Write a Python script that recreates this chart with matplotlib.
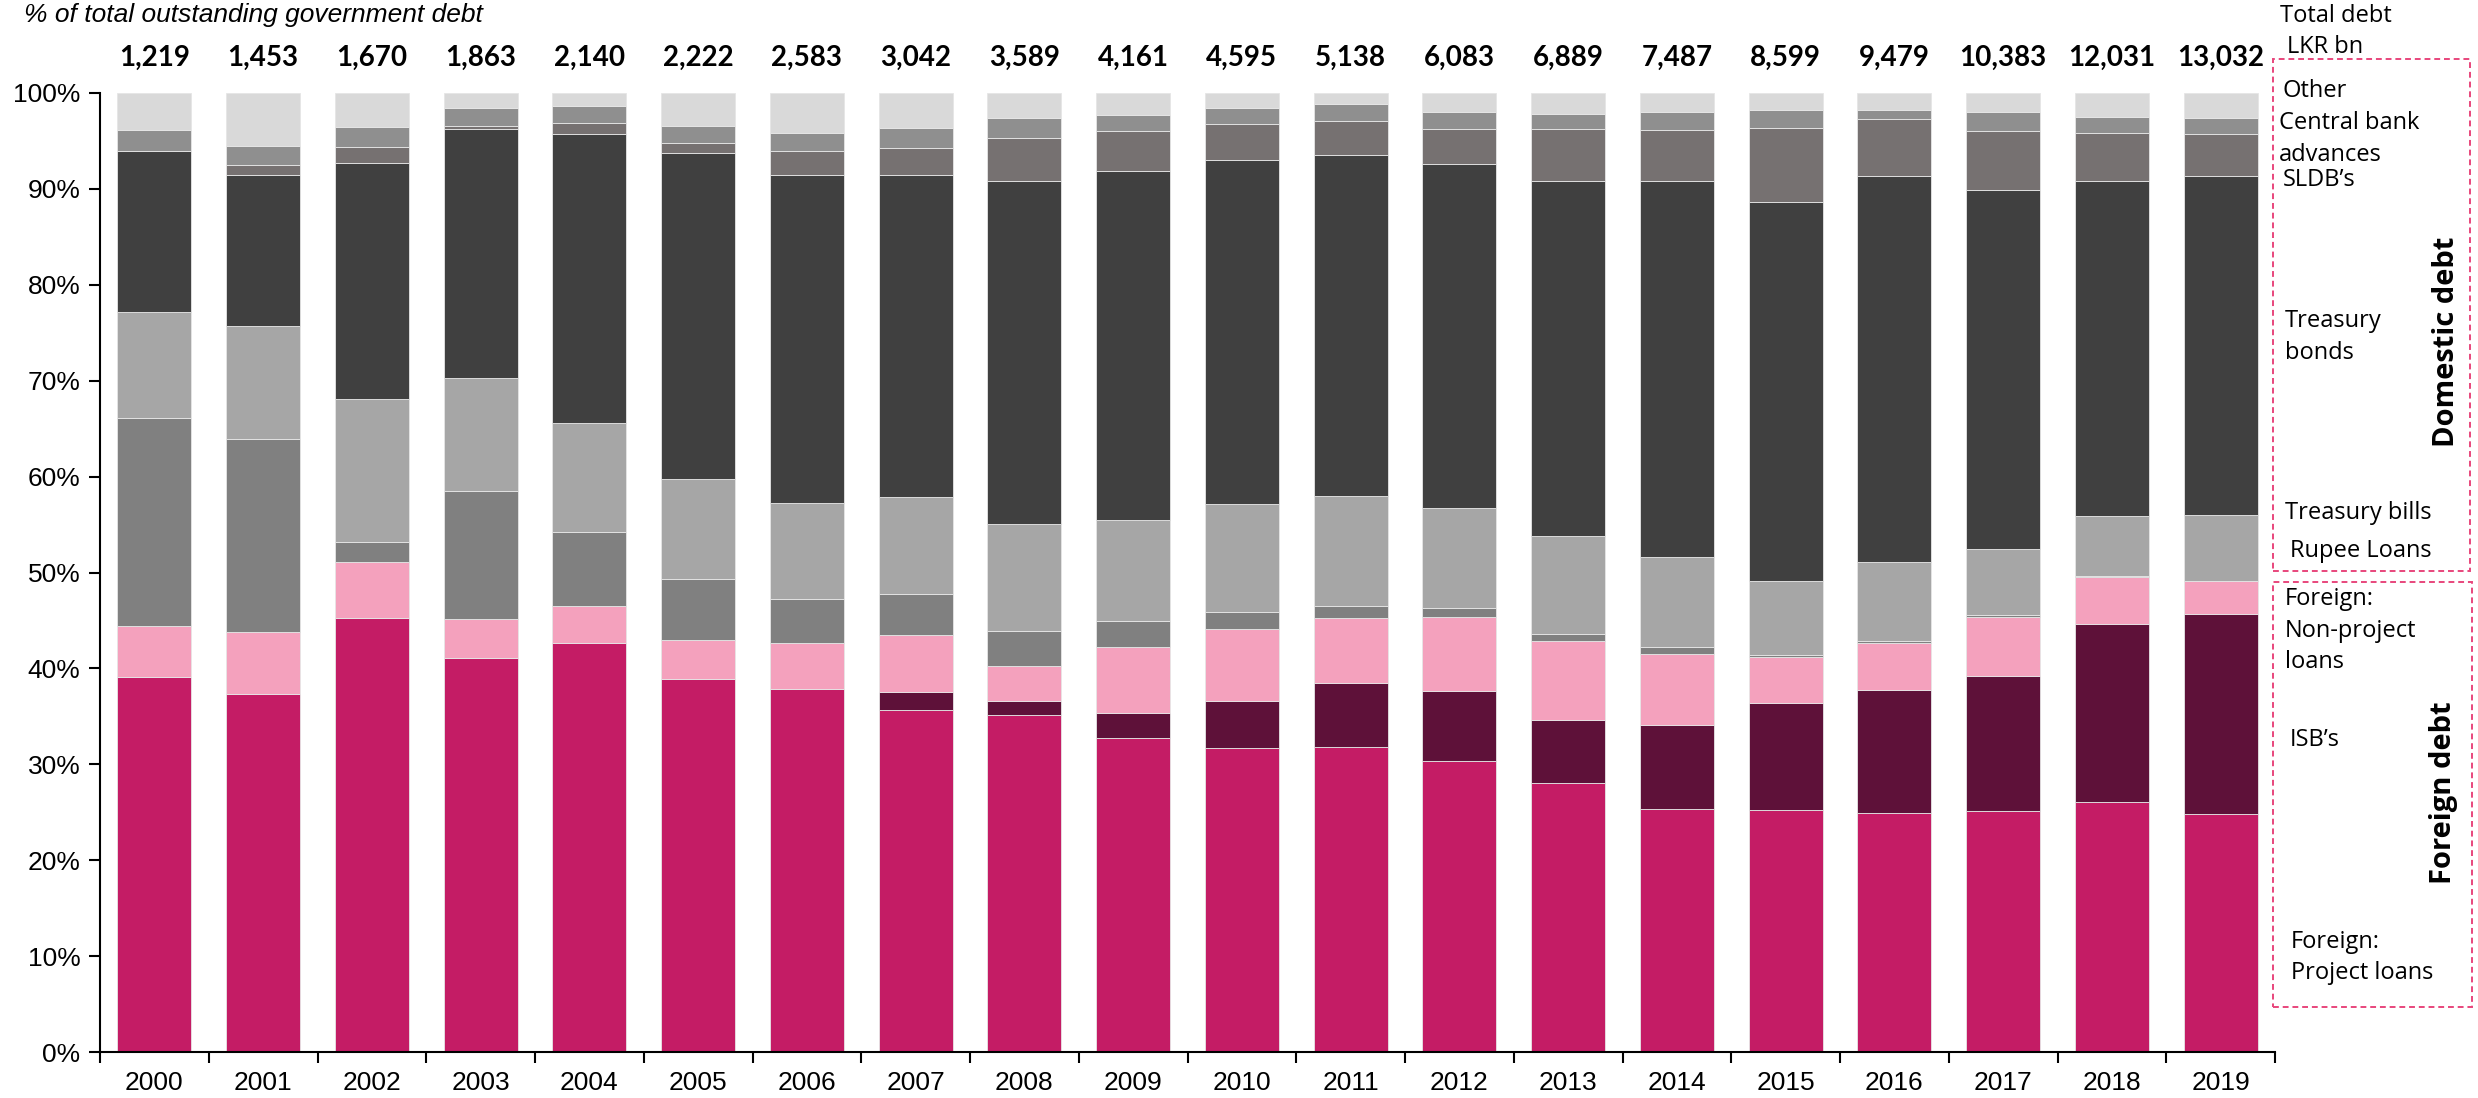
import numpy as np
import matplotlib
matplotlib.use("Agg")
import matplotlib.pyplot as plt
from matplotlib.patches import Rectangle

# === 1. Данные (доли в % от общего госдолга) ===
years = [str(y) for y in range(2000, 2020)]
totals = ["1,219", "1,453", "1,670", "1,863", "2,140", "2,222", "2,583", "3,042", "3,589", "4,161",
          "4,595", "5,138", "6,083", "6,889", "7,487", "8,599", "9,479", "10,383", "12,031", "13,032"]

project_loans = [39.1, 37.3, 45.3, 41.1, 42.7, 38.9, 37.8, 35.7, 35.1, 32.7,
                 31.7, 31.8, 30.3, 28.1, 25.3, 25.2, 24.9, 25.1, 26.1, 24.8]
isbs = [0, 0, 0, 0, 0, 0, 0, 1.8, 1.5, 2.7,
        4.9, 6.7, 7.3, 6.5, 8.8, 11.2, 12.8, 14.1, 18.5, 20.9]
non_project = [5.3, 6.5, 5.8, 4.0, 3.8, 4.1, 4.9, 6.0, 3.7, 6.8,
               7.5, 6.8, 7.8, 8.3, 7.4, 4.8, 5.0, 6.2, 4.9, 3.4]
rupee_loans = [21.7, 20.1, 2.1, 13.4, 7.7, 6.3, 4.5, 4.3, 3.6, 2.7,
               1.8, 1.2, 0.9, 0.7, 0.7, 0.2, 0.2, 0.2, 0.1, 0.0]
t_bills = [11.1, 11.8, 14.9, 11.8, 11.4, 10.5, 10.0, 10.1, 11.2, 10.6,
           11.2, 11.5, 10.4, 10.2, 9.4, 7.7, 8.2, 6.8, 6.3, 6.9]
t_bonds = [16.7, 15.8, 24.6, 25.9, 30.1, 33.9, 34.3, 33.6, 35.7, 36.4,
           35.9, 35.5, 35.9, 37.0, 39.2, 39.5, 40.2, 37.5, 34.9, 35.3]
sldbs = [0, 1.0, 1.7, 0.4, 1.2, 1.1, 2.4, 2.8, 4.5, 4.1,
         3.8, 3.6, 3.6, 5.4, 5.3, 7.8, 6.0, 6.1, 5.0, 4.4]
cb_advances = [2.2, 2.0, 2.1, 1.8, 1.7, 1.8, 1.9, 2.0, 2.1, 1.7,
               1.6, 1.8, 1.8, 1.6, 1.9, 1.8, 0.9, 2.0, 1.7, 1.7]
other = [3.9, 5.5, 3.5, 1.6, 1.4, 3.4, 4.2, 3.7, 2.6, 2.3,
         1.6, 1.1, 2.0, 2.2, 2.0, 1.8, 1.8, 2.0, 2.5, 2.6]

series = [project_loans, isbs, non_project, rupee_loans, t_bills,
          t_bonds, sldbs, cb_advances, other]
colors = ["#C41C65", "#5E1139", "#F4A1BD", "#808080", "#A6A6A6",
          "#404040", "#767171", "#8F8F8F", "#D9D9D9"]

# === 2. Фигура и оси ===
W, H = 2478, 1098
fig = plt.figure(figsize=(W / 100, H / 100), dpi=100)
ax = fig.add_axes([100 / W, 1 - 1052 / H, (2275 - 100) / W, (1052 - 93) / H])

x = np.arange(len(years))
bottom = np.zeros(len(years))
for vals, col in zip(series, colors):
    v = np.array(vals, dtype=float)
    ax.bar(x, v, width=0.68, bottom=bottom, color=col, edgecolor="#e6e6e6", linewidth=0.6)
    bottom += v

ax.set_xlim(-0.5, len(years) - 0.5)
ax.set_ylim(0, 100)
ax.set_yticks(np.arange(0, 101, 10))
ax.set_yticklabels([f"{t}%" for t in range(0, 101, 10)], fontsize=19, family="Liberation Sans")
ax.set_xticks(x)
ax.set_xticklabels(years, fontsize=19, family="Liberation Sans")
ax.set_xticks(np.arange(-0.5, len(years)), minor=True)
ax.tick_params(axis="x", which="major", length=0, pad=14)
ax.tick_params(axis="x", which="minor", length=8, width=1.5, direction="out")
ax.tick_params(axis="y", which="major", length=8, width=1.5, direction="out", pad=6)
for s in ["top", "right"]:
    ax.spines[s].set_visible(False)
ax.spines["left"].set_linewidth(1.5)
ax.spines["bottom"].set_linewidth(1.5)

# === 3. Итоговые суммы над столбцами ===
for i, t in enumerate(totals):
    ax.text(i, 103.7, t, ha="center", va="center", fontsize=20, fontweight="bold",
            family="Lato", clip_on=False)

# === 4. Заголовок ===
fig.text(24 / W, 1 - 3 / H, "% of total outstanding government debt", fontsize=19,
         style="italic", family="Liberation Sans", va="top", ha="left")

# === 5. Подписи справа ===
def px(xp, yp):
    return xp / W, 1 - yp / H

lab_font = dict(fontsize=17, family="Open Sans", va="center", ha="left")
for txt, xx, yy in [("Total debt", 2280, 16), ("LKR bn", 2287, 47),
                    ("Other", 2282, 91), ("Central bank", 2279, 123), ("advances", 2279, 155),
                    ("SLDB\u2019s", 2283, 180), ("Treasury", 2285, 321), ("bonds", 2285, 353),
                    ("Treasury bills", 2285, 513), ("Rupee Loans", 2290, 551),
                    ("Foreign:", 2285, 599), ("Non-project", 2285, 631), ("loans", 2285, 662),
                    ("ISB\u2019s", 2290, 740), ("Foreign:", 2291, 942), ("Project loans", 2291, 973)]:
    fig.text(*px(xx, yy), txt, **lab_font)

fig.text(*px(2447, 342), "Domestic debt", rotation=90, fontsize=21, fontweight="bold",
         family="Open Sans", ha="center", va="center")
fig.text(*px(2444, 793), "Foreign debt", rotation=90, fontsize=21, fontweight="bold",
         family="Open Sans", ha="center", va="center")

# пунктирные рамки
for (x0, y0, x1, y1) in [(2273, 59, 2470, 571), (2273, 582, 2472, 1007)]:
    fig.patches.append(Rectangle((x0 / W, 1 - y1 / H), (x1 - x0) / W, (y1 - y0) / H,
                                 transform=fig.transFigure, fill=False, edgecolor="#E8467C",
                                 linestyle=(0, (3, 2)), linewidth=1.4))

fig.savefig("out.png", dpi=100)
